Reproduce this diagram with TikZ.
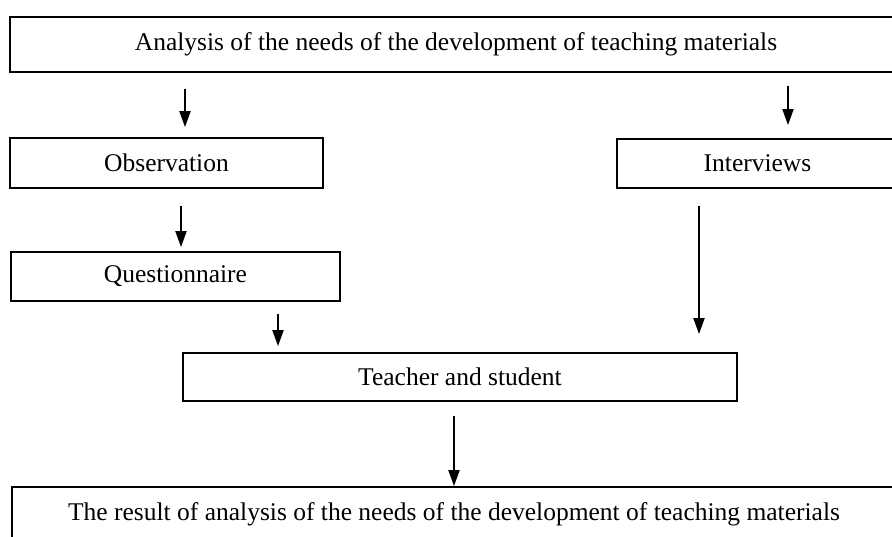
\documentclass[tikz,border=0pt]{standalone}
\usepackage{fontspec}
\setmainfont{Liberation Serif}
\usetikzlibrary{arrows.meta,calc}

\tikzset{
  box/.style={draw,rectangle,line width=1.8pt,inner sep=0pt,font=\fontsize{25.5}{30}\selectfont},
  arr/.style={line width=2pt,-{Triangle[length=16pt,width=11pt]}}
}

\begin{document}
\begin{tikzpicture}[x=1pt,y=-1pt]

    \useasboundingbox (0,0) rectangle (892,536);
    \clip (0,0) rectangle (892,536);

    % needs analysis (top)
    \node[box,minimum width=892pt,minimum height=55pt] (needs) at (456,44.5) {Analysis of the needs of the development of teaching materials};

    % observation
    \node[box,minimum width=313pt,minimum height=50pt] (obs) at (166.5,163) {Observation};
    \draw[arr] ($(185,0 |- needs.south)+(0,16)$) -- ($(185,0 |- obs.north)+(0,-10)$);

    % interviews
    \node[box,minimum width=281pt,minimum height=49pt] (interv) at (757.5,163.5) {Interviews};
    \draw[arr] ($(788,0 |- needs.south)+(0,13)$) -- ($(788,0 |- interv.north)+(0,-13)$);

    % questionnaire
    \node[box,minimum width=329pt,minimum height=49pt] (quest) at (175.5,276.5) {Questionnaire};
    \draw[arr] ($(181,0 |- obs.south)+(0,17)$) -- ($(181,0 |- quest.north)+(0,-4)$);

    % teacher and student
    \node[box,minimum width=554pt,minimum height=48pt] (teach) at (460,377) {Teacher and student};
    \draw[arr] ($(278,0 |- quest.south)+(0,12)$) -- ($(278,0 |- teach.north)+(0,-6)$);
    \draw[arr] ($(699,0 |- interv.south)+(0,17)$) -- ($(699,0 |- teach.north)+(0,-18)$);

    % result of analysis (bottom)
    \node[box,minimum width=884pt,minimum height=60pt] (result) at (454,517) {\raisebox{10pt}{The result of analysis of the needs of the development of teaching materials}};
    \draw[arr] ($(result.north |- teach.south)+(0,14)$) -- (result.north);

\end{tikzpicture}
\end{document}
